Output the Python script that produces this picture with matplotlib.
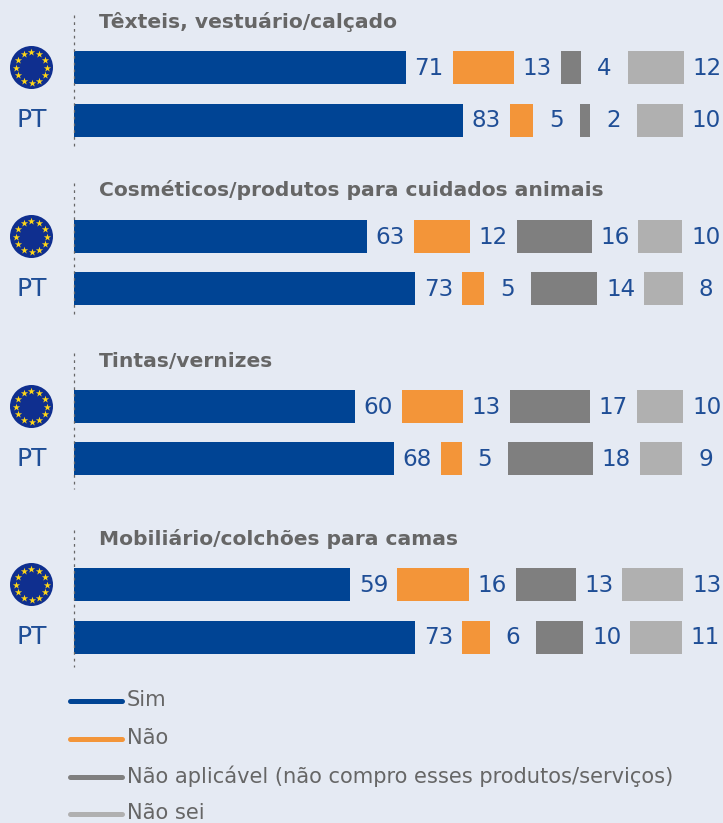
import numpy as np
import matplotlib
matplotlib.use("Agg")
import matplotlib.pyplot as plt
from matplotlib.patches import Circle

W, H = 723, 823
plt.rcParams['font.family'] = ['DejaVu Sans']

groups = ["Têxteis, vestuário/calçado", "Cosméticos/produtos para cuidados animais",
          "Tintas/vernizes", "Mobiliário/colchões para camas"]
series = ["Sim", "Não", "Não aplicável (não compro esses produtos/serviços)", "Não sei"]
colors = ["#004494", "#F39539", "#7F7F7F", "#B0B0B0"]

eu_bars = [[70.9, 13.1, 4.3, 12.0], [62.6, 12.0, 16.0, 9.4], [60.0, 13.1, 17.1, 10.0], [59.0, 15.4, 12.8, 13.0]]
pt_bars = [[83.1, 5.0, 2.1, 9.9], [72.9, 4.8, 14.1, 8.3], [68.4, 4.4, 18.1, 9.1], [72.9, 5.9, 10.0, 11.1]]
eu_labels = [[71, 13, 4, 12], [63, 12, 16, 10], [60, 13, 17, 10], [59, 16, 13, 13]]
pt_labels = [[83, 5, 2, 10], [73, 5, 14, 8], [68, 5, 18, 9], [73, 6, 10, 11]]
gap = 10.0

BG = "#E5EAF3"
BLUE = "#1F4E96"
GREY = "#666666"
PX = 4.68
X0 = 74

fig = plt.figure(figsize=(W / 100, H / 100), dpi=100, facecolor=BG)
ax = fig.add_axes([0, 0, 1, 1], facecolor="none")
ax.set_xlim(-X0 / PX, (W - X0) / PX)
ax.set_ylim(H, 0)
ax.axis("off")

deco = fig.add_axes([0, 0, 1, 1], facecolor="none")
deco.set_xlim(0, W)
deco.set_ylim(H, 0)
deco.axis("off")

title_y = [22, 190, 361, 539]
eu_y = [67.5, 236.5, 406.5, 584.5]
pt_y = [120, 288.5, 458.5, 637.5]
vline = [(15, 150), (183, 318), (353, 489), (530, 667)]


def row(vals, labels, y):
    left = 0.0
    for v, lab, c in zip(vals, labels, colors):
        ax.barh(y, v, left=left, height=33, color=c, linewidth=0)
        ax.text(left + v + gap / 2, y + 0.5, str(lab), ha="center", va="center",
                fontsize=16.6, color=BLUE)
        left += v + gap


def flag(y):
    deco.add_patch(Circle((31.5, y), 21.5, color="#0F2F8F", lw=0))
    a = np.deg2rad(np.arange(0, 360, 30))
    deco.scatter(31.5 + 15.2 * np.cos(a), y + 15.2 * np.sin(a), marker="*", s=30,
                 color="#FFD617", linewidths=0, zorder=3)


for i, g in enumerate(groups):
    row(eu_bars[i], eu_labels[i], eu_y[i])
    row(pt_bars[i], pt_labels[i], pt_y[i])
    deco.text(99, title_y[i], g, fontsize=14.6, fontweight="bold", color=GREY, va="center", ha="left")
    deco.plot([X0 - 0.5, X0 - 0.5], vline[i], color="#666666", lw=0.9, ls=(0, (2.2, 3.2)), zorder=0)
    flag(eu_y[i])
    deco.text(32, pt_y[i], "PT", fontsize=18, color=BLUE, ha="center", va="center")

leg_y = [701, 739, 777, 814]
for s, c, y in zip(series, colors, leg_y):
    deco.plot([70, 122], [y, y], color=c, lw=3.6, solid_capstyle="round")
    deco.text(127, y - 1, s, fontsize=15.1, color=GREY, va="center", ha="left")

fig.savefig("out.png", dpi=100, facecolor=BG)
